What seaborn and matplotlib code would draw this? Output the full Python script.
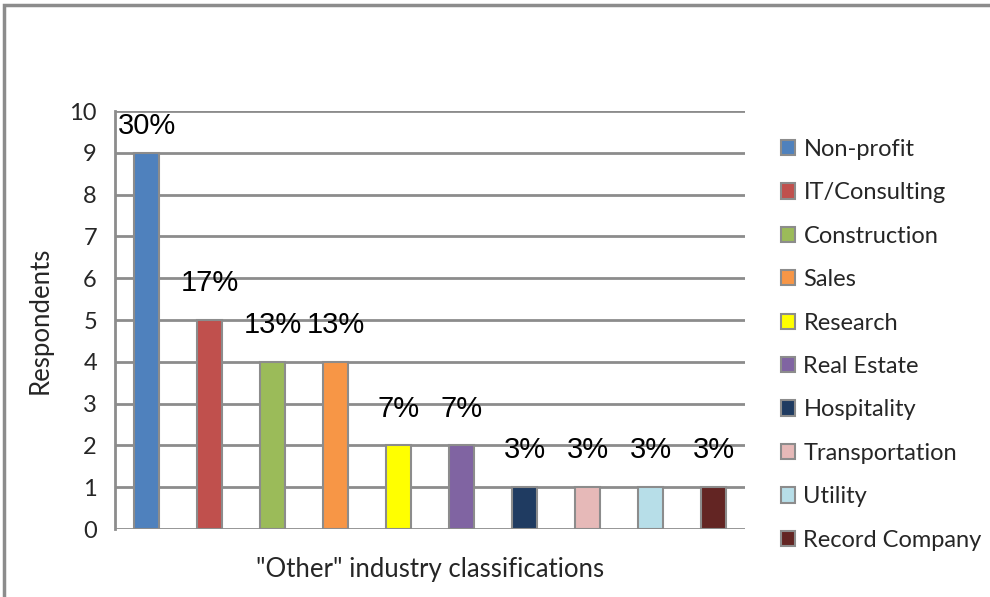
import matplotlib
matplotlib.use("Agg")
import matplotlib.pyplot as plt
import seaborn as sns
import pandas as pd
from matplotlib.patches import Rectangle

# Données
industries = ["Non-profit", "IT/Consulting", "Construction", "Sales", "Research",
              "Real Estate", "Hospitality", "Transportation", "Utility", "Record Company"]
respondents = [9, 5, 4, 4, 2, 2, 1, 1, 1, 1]
pourcentages = ["30%", "17%", "13%", "13%", "7%", "7%", "3%", "3%", "3%", "3%"]
couleurs = ["#4F81BD", "#C0504D", "#9BBB59", "#F79646", "#FFFF00",
            "#8064A2", "#1F3B61", "#E6B9B8", "#B7DEE8", "#632523"]

df = pd.DataFrame({"Industry": industries, "Respondents": respondents})

sns.set_style("white")
plt.rcParams['font.family'] = ['Lato', 'DejaVu Sans']

fig = plt.figure(figsize=(9.9, 5.97), dpi=100)
ax = fig.add_axes([0.1162, 0.1139, 0.6363, 0.7001])

sns.barplot(data=df, x="Industry", y="Respondents", hue="Industry",
            palette=couleurs, saturation=1, width=0.41, dodge=False, legend=True,
            edgecolor="#8c8c8c", linewidth=1.5, ax=ax, zorder=3)

# Étiquettes de pourcentage au-dessus des barres
for i, (v, p) in enumerate(zip(respondents, pourcentages)):
    y = min(v + 0.88, 9.65)
    ax.text(i, y, p, ha="center", va="center", fontsize=21,
            family=["Liberation Sans", "DejaVu Sans"], color="black", zorder=4)

ax.set_ylim(0, 10)
ax.set_xlim(-0.5, len(industries) - 0.5)
ax.set_yticks(range(0, 11))
ax.set_xticks([])
ax.yaxis.grid(True, color="#8c8c8c", linewidth=2)
ax.set_axisbelow(True)
for s in ["top", "right", "bottom"]:
    ax.spines[s].set_visible(False)
ax.spines["left"].set_color("#8c8c8c")
ax.spines["left"].set_linewidth(2)
ax.tick_params(axis="y", length=7, width=2, color="#8c8c8c", labelsize=17, pad=6)
ax.set_xlabel('"Other" industry classifications', fontsize=18.5, labelpad=20)
ax.set_ylabel("Respondents", fontsize=18.5, labelpad=12)

# Légende à droite
handles, labels = ax.get_legend_handles_labels()
ax.get_legend().remove()
leg = fig.legend(handles, labels, loc="upper left", bbox_to_anchor=(0.767, 0.803),
                 frameon=False, fontsize=17, handlelength=0.62, handleheight=0.62,
                 handletextpad=0.35, labelspacing=0.95)
for h in leg.legend_handles:
    h.set_edgecolor("#8c8c8c")
    h.set_linewidth(1.5)

# Cadre autour du graphique
fig.patches.append(Rectangle((0.004, -0.01), 1.0, 1.0 - 0.0084 + 0.01, transform=fig.transFigure,
                             fill=False, edgecolor="#8c8c8c", linewidth=2.5))

plt.savefig("out.png", dpi=100)
